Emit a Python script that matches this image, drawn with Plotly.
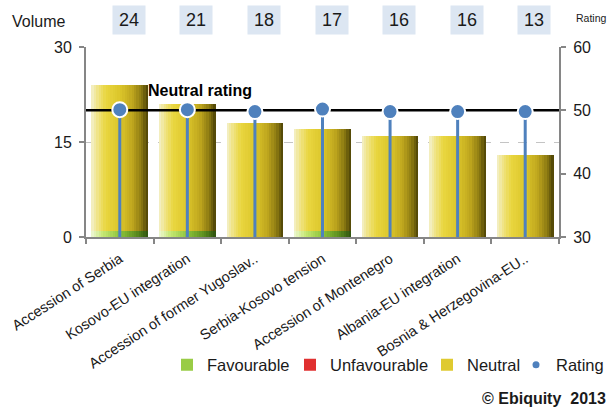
import plotly.graph_objects as go

# ---- data ----
categories = ["Accession of Serbia", "Kosovo-EU integration", "Accession of former Yugoslav..",
              "Serbia-Kosovo tension", "Accession of Montenegro", "Albania-EU integration",
              "Bosnia & Herzegovina-EU.."]
favourable = [1, 1, 0, 1, 0, 0, 0]
unfavourable = [0, 0, 0, 0, 0, 0, 0]
neutral = [23, 20, 18, 16, 16, 16, 13]
rating = [50.1, 50.1, 49.8, 50.2, 49.8, 49.8, 49.8]
volume_labels = [24, 21, 18, 17, 16, 16, 13]
neutral_rating = 50
left_ticks = [0, 15, 30]
right_ticks = [30, 40, 50, 60]

FONT = "Liberation Sans, Arial, sans-serif"
AX = "#868686"
BLUE = "#4f81bd"

idx = list(range(len(categories)))


def hex2rgb(h):
    h = h.lstrip("#")
    return tuple(int(h[i:i + 2], 16) for i in (0, 2, 4))


def grad(stops, t):
    for (t0, c0), (t1, c1) in zip(stops[:-1], stops[1:]):
        if t0 <= t <= t1:
            f = (t - t0) / (t1 - t0) if t1 > t0 else 0
            a, b = hex2rgb(c0), hex2rgb(c1)
            return "rgb(%d,%d,%d)" % tuple(round(a[i] + (b[i] - a[i]) * f) for i in range(3))
    return stops[-1][1]


yellow_stops = [(0, "#f4f0cc"), (0.12, "#efe27e"), (0.25, "#e9d640"), (0.5, "#dcc62a"),
                (0.72, "#bfa61e"), (0.88, "#8d7b12"), (1.0, "#4a4106")]
green_stops = [(0, "#eef8d4"), (0.2, "#c6e874"), (0.5, "#8dc43a"), (0.8, "#5a8c1e"), (1.0, "#2e5210")]

fig = go.Figure()

N = 24
BW = 0.84


def add_stripes(vals, base, stops, name, legend):
    for k in range(N):
        t = (k + 0.5) / N
        w = BW / N + (0.006 if k < N - 1 else 0)
        fig.add_trace(go.Bar(
            x=idx, y=vals, base=base, width=w, offset=-BW / 2 + k * BW / N,
            marker=dict(color=grad(stops, t), line=dict(width=0)),
            name=name, legend=legend, showlegend=(k == N // 2 - 2),
            hoverinfo="skip"))


add_stripes(favourable, [0] * len(idx), green_stops, "Favourable", "legend")
fig.add_trace(go.Bar(x=idx, y=unfavourable, base=favourable, width=BW,
                     marker=dict(color="#e03030", line=dict(width=0)),
                     name="Unfavourable", legend="legend2", hoverinfo="skip"))
add_stripes(neutral, [f + u for f, u in zip(favourable, unfavourable)], yellow_stops, "Neutral", "legend3")

# neutral rating line
fig.add_trace(go.Scatter(x=[idx[0] - 0.5, idx[-1] + 0.5], y=[neutral_rating] * 2, yaxis="y2",
                         mode="lines", line=dict(color="black", width=2.5),
                         showlegend=False, hoverinfo="skip"))
# rating lollipops
fig.add_trace(go.Scatter(
    x=idx, y=rating, yaxis="y2", mode="markers",
    marker=dict(size=15, color=BLUE, line=dict(color="white", width=2)),
    error_y=dict(type="data", symmetric=False, array=[0] * len(rating),
                 arrayminus=[r - right_ticks[0] for r in rating],
                 color=BLUE, thickness=3, width=0),
    showlegend=False, name="Rating"))
fig.add_trace(go.Scatter(x=[None], y=[None], yaxis="y2", mode="markers",
                         marker=dict(size=7, color=BLUE), name="Rating", legend="legend4"))

annotations = []
for i, v in zip(idx, volume_labels):
    annotations.append(dict(x=i, xref="x", y=(237 - 20) / 190, yref="paper", text=str(v),
                            showarrow=False, xshift=9, bgcolor="#dce6f2", width=30, height=26,
                            font=dict(size=18, color="#1a1a1a", family=FONT),
                            xanchor="center", yanchor="middle"))
annotations += [
    dict(x=(10 - 86) / 473, xref="paper", y=(237 - 21) / 190, yref="paper", text="Volume",
         showarrow=False, xanchor="left", yanchor="middle", font=dict(size=16, color="#1a1a1a", family=FONT)),
    dict(x=(574 - 86) / 473, xref="paper", y=(237 - 18) / 190, yref="paper", text="Rating",
         showarrow=False, xanchor="left", yanchor="middle", font=dict(size=10.5, color="#1a1a1a", family=FONT)),
    dict(x=0.39, xref="x", y=53.2, yref="y2", text="<b>Neutral rating</b>", showarrow=False,
         xanchor="left", yanchor="middle", font=dict(size=16, color="black", family=FONT)),
    dict(x=(480 - 86) / 473, xref="paper", y=(237 - 398) / 190, yref="paper",
         text="<b>©\u00a0Ebiquity\u00a0\u00a02013</b>", showarrow=False, xanchor="left", yanchor="middle",
         font=dict(size=16, color="#1a1a1a", family=FONT)),
]


def leg(text_start):
    return dict(orientation="h", xref="container", yref="container",
                x=(text_start - 40) / 608, y=1 - 365 / 410, xanchor="left", yanchor="middle",
                font=dict(size=16.5, color="#1a1a1a", family=FONT), bgcolor="rgba(0,0,0,0)",
                borderwidth=0)


fig.update_layout(
    width=608, height=410,
    margin=dict(l=86, r=49, t=47, b=173, autoexpand=False),
    paper_bgcolor="white", plot_bgcolor="white",
    barmode="overlay", bargap=0,
    font=dict(family=FONT, color="#1a1a1a"),
    xaxis=dict(range=[idx[0] - 0.5, idx[-1] + 0.5], tickmode="array", tickvals=idx, ticktext=categories,
               tickangle=-33, ticks="", showline=True, linecolor=AX, linewidth=2,
               showgrid=False, zeroline=False, tickfont=dict(size=14.5, color="#1a1a1a"),
               ticklabelstandoff=6,
               minor=dict(tickmode="array", tickvals=[i - 0.5 for i in idx] + [idx[-1] + 0.5],
                          ticks="outside", ticklen=5, tickcolor=AX, tickwidth=1.5, showgrid=False)),
    yaxis=dict(range=[left_ticks[0], left_ticks[-1]], tickmode="array", tickvals=left_ticks,
               ticks="outside", ticklen=5, tickcolor=AX, tickwidth=1.5, showline=True, linecolor=AX,
               linewidth=2, showgrid=True, gridcolor="#c4c4c4", gridwidth=1, griddash="dash",
               zeroline=False, tickfont=dict(size=16, color="#1a1a1a"), ticklabelstandoff=4),
    yaxis2=dict(range=[right_ticks[0], right_ticks[-1]], tickmode="array", tickvals=right_ticks,
                overlaying="y", side="right", ticks="outside", ticklen=5, tickcolor=AX, tickwidth=1.5,
                showline=True, linecolor=AX, linewidth=2, showgrid=False, zeroline=False,
                tickfont=dict(size=16, color="#1a1a1a"), ticklabelstandoff=4),
    legend=leg(207), legend2=leg(330), legend3=leg(467), legend4=leg(556),
    annotations=annotations,
)

fig.write_html("out.html", config={"displayModeBar": False},
               post_script="document.body.style.margin='0px';")
